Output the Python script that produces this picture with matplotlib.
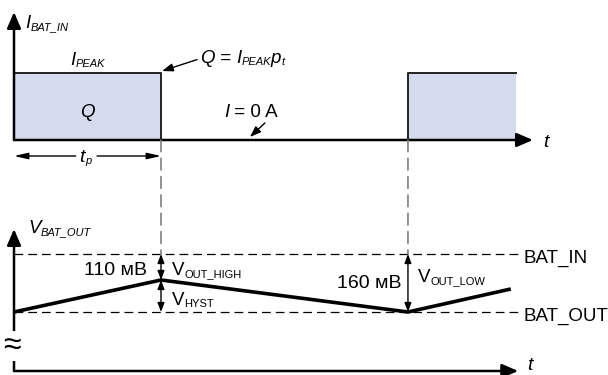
import matplotlib
matplotlib.use('Agg')
import matplotlib.pyplot as plt
from matplotlib.patches import ConnectionPatch

plt.rcParams['font.family'] = ['Liberation Sans', 'DejaVu Sans']

# --- data (time in units of t_p, current in units of I_PEAK,
#     voltage: 0 = BAT_OUT, 1 = BAT_IN; diagram is not to scale)
pulse_start = [0.0, 2.68]
pulse_end = [1.0, 3.415]
i_peak = 1.0
v_time = [0.0, 1.0, 2.68, 3.38]
v_level = [0.0, 0.552, 0.0, 0.397]
bat_in = 1.0
bat_out = 0.0
v_high_text = '110 мВ'
v_low_text = '160 мВ'
level_names = ['BAT_IN', 'BAT_OUT']

W, H = 608, 375
fig = plt.figure(figsize=(W / 100, H / 100), dpi=100)

# both panels share the time scale, each has its own vertical scale
px_t, x0 = 147.0, 14.0
ax_i = fig.add_axes([0, 0, 1, 1])
ax_i.set_xlim(-x0 / px_t, (W - x0) / px_t)
ax_i.set_ylim((140 - H) / 67.0, 140 / 67.0)
ax_v = fig.add_axes([0, 0, 1, 1])
ax_v.set_xlim(-x0 / px_t, (W - x0) / px_t)
ax_v.set_ylim((312 - H) / 58.0, 312 / 58.0)
for a in (ax_i, ax_v):
    a.axis('off')
ax_v.patch.set_visible(False)

FS, SFS = 13.5, 8
FILL = '#d5dbee'


def rich(ax, x, y, parts, size=FS, **kw):
    """parts: list of (text, is_sub, italic); chained left to right"""
    txt, sub, it = parts[0]
    prev = ax.text(x, y, txt, fontsize=SFS if sub else size,
                   style='italic' if it else 'normal',
                   ha='left', va='baseline', **kw)
    for txt, sub, it in parts[1:]:
        prev = ax.annotate(txt, xy=(1, 0), xycoords=prev,
                           fontsize=SFS if sub else size,
                           style='italic' if it else 'normal',
                           ha='left', va='bottom', **kw)
    return prev


def arrow(ax, p0, p1, style, lw=1.0, ms=12):
    ax.annotate('', xy=p1, xytext=p0,
                arrowprops=dict(arrowstyle=style, color='k', lw=lw,
                                shrinkA=0, shrinkB=0, mutation_scale=ms))


axis_head = '-|>,head_length=0.65,head_width=0.28'
thin_head = '-|>,head_length=0.55,head_width=0.2'

# ---------- current panel ----------
for s, e in zip(pulse_start, pulse_end):
    ax_i.fill_between([s, e], 0, i_peak, color=FILL, lw=0, zorder=1)
    xs = [s, s, e]
    ys = [0, i_peak, i_peak]
    if e <= 1.0:
        xs.append(e)
        ys.append(0)
    ax_i.plot(xs, ys, color='#222222', lw=1.4, zorder=2)

arrow(ax_i, (0, 0), (3.53, 0), axis_head, lw=1.8, ms=15)
arrow(ax_i, (0, 0), (0, 1.91), axis_head, lw=1.8, ms=15)
ax_i.text(3.6, -0.03, 't', fontsize=14, style='italic', ha='left', va='center')

rich(ax_i, 0.075, 1.672, [('I', False, True), ('BAT_IN', True, True)])
rich(ax_i, 0.381, 1.119, [('I', False, True), ('PEAK', True, True)])
ax_i.text(0.5, 0.343, 'Q', fontsize=FS, style='italic', ha='center', va='baseline')
rich(ax_i, 1.265, 1.149, [('Q', False, True), (' = ', False, False), ('I', False, True),
                          ('PEAK', True, True), ('p', False, True), ('t', True, True)])
arrow(ax_i, (1.245, 1.20), (1.007, 1.03), thin_head)
rich(ax_i, 1.43, 0.343, [('I', False, True), (' = 0 A', False, False)])
arrow(ax_i, (1.707, 0.254), (1.605, 0.045), thin_head)

# t_p dimension: two arrows pointing away from the label
tp_y = -0.239
arrow(ax_i, (0.42, tp_y), (0.0, tp_y), '-|>,head_length=0.7,head_width=0.16')
arrow(ax_i, (0.565, tp_y), (1.0, tp_y), '-|>,head_length=0.7,head_width=0.16')
rich(ax_i, 0.445, -0.328, [('t', False, True), ('p', True, True)], size=14)

# ---------- voltage panel ----------
for lev, name in zip([bat_in, bat_out], level_names):
    ax_v.plot([0, 3.43], [lev, lev], color='k', lw=0.9, ls=(0, (7, 4)))
    ax_v.text(3.463, lev - 0.155, name, fontsize=FS, ha='left', va='baseline')

ax_v.plot(v_time, v_level, color='k', lw=2.6, solid_capstyle='butt')

arrow(ax_v, (0, -1.017), (3.43, -1.017), axis_head, lw=1.8, ms=15)
arrow(ax_v, (0, -1.017), (0, 1.43), axis_head, lw=1.8, ms=15)
ax_v.text(3.49, -0.92, 't', fontsize=14, style='italic', ha='left', va='center')
ax_v.text(-0.012, -0.58, '\u2248', fontsize=23, ha='center', va='center',
          bbox=dict(fc='white', ec='none', pad=0))

rich(ax_v, 0.095, 1.362, [('V', False, True), ('BAT_OUT', True, True)])

# connectors between the panels
for t in (v_time[1], v_time[2]):
    con = ConnectionPatch(xyA=(t, 0), coordsA=ax_i.transData,
                          xyB=(t, bat_in), coordsB=ax_v.transData,
                          color='#7f7f7f', lw=1.2, ls=(0, (7, 4)))
    fig.add_artist(con)

small = '<|-|>,head_length=0.45,head_width=0.17'
arrow(ax_v, (v_time[1], bat_in), (v_time[1], v_level[1]), small)
arrow(ax_v, (v_time[1], v_level[1]), (v_time[1], bat_out), small)
arrow(ax_v, (v_time[2], bat_in), (v_time[2], bat_out), small)

ax_v.text(0.905, 0.638, v_high_text, fontsize=14, ha='right', va='baseline')
rich(ax_v, 1.075, 0.638, [('V', False, False), ('OUT_HIGH', True, False)])
rich(ax_v, 1.075, 0.121, [('V', False, False), ('HYST', True, False)])
ax_v.text(2.639, 0.414, v_low_text, fontsize=14, ha='right', va='baseline')
rich(ax_v, 2.748, 0.517, [('V', False, False), ('OUT_LOW', True, False)])

fig.savefig('out.png', dpi=100)
